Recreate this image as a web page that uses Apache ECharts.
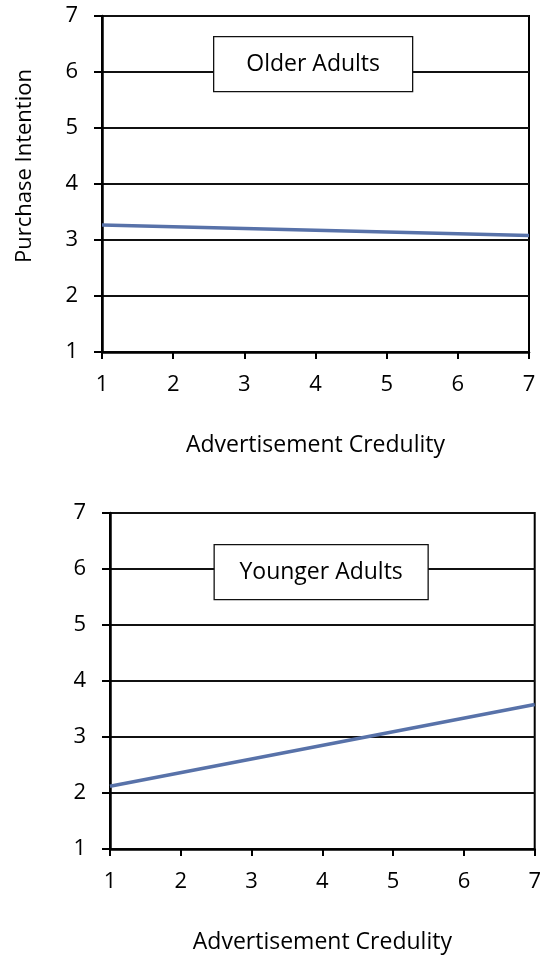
<!DOCTYPE html>
<html><head><meta charset="utf-8">
<script src="https://cdn.jsdelivr.net/npm/echarts@6/dist/echarts.min.js"></script>
<style>html,body{margin:0;padding:0;background:#fff}#c{width:544px;height:955px}</style>
</head><body><div id="c"></div>
<script>
// ---- data ----
const credulity = [1, 7];
const olderIntention = [3.27, 3.08];
const youngerIntention = [2.12, 3.58];
const panelLabels = ['Older Adults', 'Younger Adults'];
const xTitle = 'Advertisement Credulity';
const yTitle = 'Purchase Intention';

const FONT = '"Open Sans", sans-serif';
const chart = echarts.init(document.getElementById('c'), null, {renderer: 'canvas'});

function xAxis(gi) {
  return {
    type: 'value', gridIndex: gi, min: 1, max: 7, interval: 1,
    name: xTitle, nameLocation: 'middle', nameGap: 82,
    nameTextStyle: {fontFamily: FONT, fontSize: 23, color: '#000'},
    axisLine: {show: true, lineStyle: {color: '#000', width: 2.5}},
    axisTick: {show: true, inside: false, length: 7, lineStyle: {color: '#000', width: 2}},
    axisLabel: {fontFamily: FONT, fontSize: 22, color: '#000', margin: 22},
    splitLine: {show: false}
  };
}
function yAxis(gi, withName) {
  return {
    type: 'value', gridIndex: gi, min: 1, max: 7, interval: 1,
    name: withName ? yTitle : '', nameLocation: 'middle', nameGap: 66,
    nameTextStyle: {fontFamily: FONT, fontSize: 22, color: '#000', padding: [0, 0, 0, 36]},
    axisLine: {show: true, lineStyle: {color: '#000', width: 2.5}},
    axisTick: {show: true, inside: false, length: 8, lineStyle: {color: '#000', width: 2}},
    axisLabel: {fontFamily: FONT, fontSize: 22, color: '#000', margin: 24},
    splitLine: {show: true, lineStyle: {color: '#111', width: 2}}
  };
}
function boxGraphic(cx, cy, w, h, label) {
  return {
    type: 'group', left: cx - w / 2, top: cy - h / 2, z: 100, zlevel: 1,
    children: [
      {type: 'rect', z: 100, zlevel: 1, shape: {x: 0, y: 0, width: w, height: h},
       style: {fill: '#fff', stroke: '#111', lineWidth: 1.3}},
      {type: 'text', z: 101, zlevel: 1, x: w / 2, y: h / 2,
       style: {text: label, fill: '#000', font: '23px ' + FONT, align: 'center', verticalAlign: 'middle'}}
    ]
  };
}

const option = {
  animation: false,
  backgroundColor: '#fff',
  grid: [
    {left: 102, top: 16, width: 427, height: 336, show: true, borderColor: '#000', borderWidth: 2, backgroundColor: 'transparent'},
    {left: 110, top: 513, width: 427, height: 336, show: true, borderColor: '#000', borderWidth: 2, backgroundColor: 'transparent'}
  ],
  xAxis: [xAxis(0), xAxis(1)],
  yAxis: [yAxis(0, true), yAxis(1, false)],
  series: [
    {type: 'line', xAxisIndex: 0, yAxisIndex: 0, symbol: 'none', z: 5,
     data: credulity.map((x, i) => [x, olderIntention[i]]),
     lineStyle: {color: '#5872A9', width: 3.5}},
    {type: 'line', xAxisIndex: 1, yAxisIndex: 1, symbol: 'none', z: 5,
     data: credulity.map((x, i) => [x, youngerIntention[i]]),
     lineStyle: {color: '#5872A9', width: 3.5}}
  ],
  graphic: [
    boxGraphic(312.5, 63.5, 199, 55, panelLabels[0]),
    boxGraphic(320.5, 571.5, 214, 55, panelLabels[1])
  ]
};
chart.setOption(option);
</script>
</body></html>
